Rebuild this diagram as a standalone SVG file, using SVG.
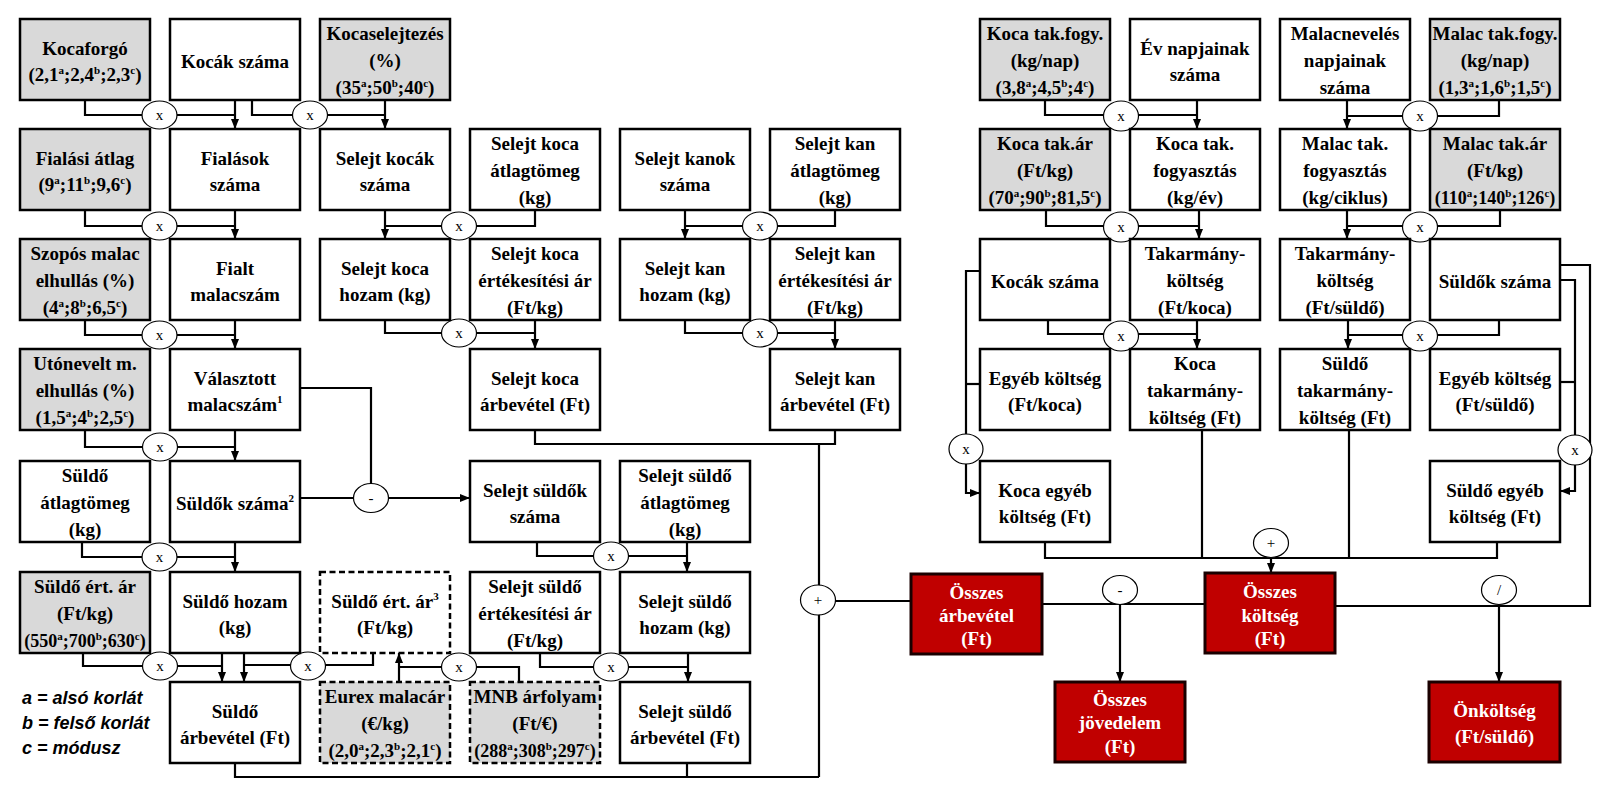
<svg xmlns="http://www.w3.org/2000/svg" width="1601" height="793" viewBox="0 0 1601 793">
<style>
.b{fill:#fff;stroke:#000;stroke-width:2.5}
.g{fill:#d9d9d9;stroke:#000;stroke-width:2.5}
.d{stroke-dasharray:6 3.5}
.r{fill:#c00000;stroke:#1a0000;stroke-width:3}
.t{font-family:"Liberation Serif","Times New Roman",serif;font-weight:bold;font-size:19px;text-anchor:middle;fill:#000}
.w{fill:#fff}
.sm{font-size:18px}
.s{font-size:11px}
.ln{fill:none;stroke:#000;stroke-width:2.2}
.op ellipse{fill:#fff;stroke:#000;stroke-width:1.2}
.op text{font-family:"Liberation Serif","Times New Roman",serif;font-size:15px;text-anchor:middle;fill:#000}
.lg{font-family:"Liberation Sans",Arial,sans-serif;font-weight:bold;font-style:italic;font-size:18px;fill:#000}
</style>
<defs>
<marker id="ar" markerWidth="10" markerHeight="8" refX="10" refY="4" orient="auto" markerUnits="userSpaceOnUse"><path d="M0,0 L10,4 L0,8 z" fill="#000"/></marker>
</defs>

<g id="connectors">
<g class="ln">
<path d="M85,100 V115 H235"/>
<path d="M235,100 V129" marker-end="url(#ar)"/>
<path d="M252,100 V115 H385"/>
<path d="M385,100 V129" marker-end="url(#ar)"/>
<path d="M85,210 V226 H235"/>
<path d="M235,210 V239" marker-end="url(#ar)"/>
<path d="M385,210 V239" marker-end="url(#ar)"/>
<path d="M385,226 H535 V210"/>
<path d="M685,210 V239" marker-end="url(#ar)"/>
<path d="M685,226 H835 V210"/>
<path d="M85,320 V335 H235"/>
<path d="M235,320 V349" marker-end="url(#ar)"/>
<path d="M385,320 V333 H535"/>
<path d="M535,320 V349" marker-end="url(#ar)"/>
<path d="M685,320 V333 H835"/>
<path d="M835,320 V349" marker-end="url(#ar)"/>
<path d="M85,430 V447 H235"/>
<path d="M235,430 V461" marker-end="url(#ar)"/>
<path d="M300,388 H371 V486"/>
<path d="M300,498 H470" marker-end="url(#ar)"/>
<path d="M535,430 V444 H835 V430"/>
<path d="M819,444 V777"/>
<path d="M235,763 V777 H819"/>
<path d="M687,763 V777"/>
<path d="M819,601 H911"/>
<path d="M82,542 V557 H235"/>
<path d="M235,542 V572" marker-end="url(#ar)"/>
<path d="M537,542 V556 H687"/>
<path d="M687,542 V572" marker-end="url(#ar)"/>
<path d="M83,653 V666 H222"/>
<path d="M222,653 V682" marker-end="url(#ar)"/>
<path d="M244,653 V682" marker-end="url(#ar)"/>
<path d="M244,665 H373 V653"/>
<path d="M399,682 V653" marker-end="url(#ar)"/>
<path d="M399,667 H519 V682"/>
<path d="M540,653 V667 H688"/>
<path d="M688,653 V682" marker-end="url(#ar)"/>

<path d="M1045,100 V115 H1197"/>
<path d="M1197,100 V129" marker-end="url(#ar)"/>
<path d="M1499,100 V116 H1347"/>
<path d="M1347,100 V129" marker-end="url(#ar)"/>
<path d="M1046,210 V226 H1199"/>
<path d="M1199,210 V239" marker-end="url(#ar)"/>
<path d="M1500,210 V226 H1347"/>
<path d="M1347,210 V239" marker-end="url(#ar)"/>
<path d="M1048,320 V334 H1197"/>
<path d="M1197,320 V349" marker-end="url(#ar)"/>
<path d="M1499,320 V335 H1348"/>
<path d="M1348,320 V349" marker-end="url(#ar)"/>
<path d="M980,271 H966 V493 H980" marker-end="url(#ar)"/>
<path d="M980,384 H966"/>
<path d="M1560,280 H1575 V491 H1560" marker-end="url(#ar)"/>
<path d="M1560,382 H1575"/>
<path d="M1560,265 H1590 V606 H1335"/>
<path d="M1499,604 V682" marker-end="url(#ar)"/>
<path d="M1045,542 V558 H1497 V542"/>
<path d="M1202,430 V558"/>
<path d="M1349,430 V558"/>
<path d="M1271,558 V573" marker-end="url(#ar)"/>
<path d="M1042,604 H1205"/>
<path d="M1120,604 V682" marker-end="url(#ar)"/>
</g>
<g class="op">
<ellipse cx="159.5" cy="115" rx="17.5" ry="14"/><text x="159.5" y="119.5">x</text>
<ellipse cx="310" cy="115" rx="17.5" ry="14"/><text x="310" y="119.5">x</text>
<ellipse cx="159.5" cy="226" rx="17.5" ry="14"/><text x="159.5" y="230.5">x</text>
<ellipse cx="459" cy="226" rx="17.5" ry="14"/><text x="459" y="230.5">x</text>
<ellipse cx="760" cy="226" rx="17.5" ry="14"/><text x="760" y="230.5">x</text>
<ellipse cx="159.5" cy="335" rx="17.5" ry="14"/><text x="159.5" y="339.5">x</text>
<ellipse cx="459" cy="333" rx="17.5" ry="14"/><text x="459" y="337.5">x</text>
<ellipse cx="760" cy="333" rx="17.5" ry="14"/><text x="760" y="337.5">x</text>
<ellipse cx="160" cy="447" rx="17.5" ry="14"/><text x="160" y="451.5">x</text>
<ellipse cx="371" cy="498" rx="17.5" ry="14.5"/><text x="371" y="502.5">-</text>
<ellipse cx="159.5" cy="557" rx="17.5" ry="14"/><text x="159.5" y="561.5">x</text>
<ellipse cx="611" cy="556" rx="17.5" ry="14"/><text x="611" y="560.5">x</text>
<ellipse cx="818" cy="600" rx="17.5" ry="15"/><text x="818" y="604.5">+</text>
<ellipse cx="160" cy="666" rx="17.5" ry="14"/><text x="160" y="670.5">x</text>
<ellipse cx="308" cy="666" rx="17.5" ry="14"/><text x="308" y="670.5">x</text>
<ellipse cx="459" cy="667" rx="17.5" ry="14"/><text x="459" y="671.5">x</text>
<ellipse cx="611" cy="667" rx="17.5" ry="14"/><text x="611" y="671.5">x</text>
<ellipse cx="1121" cy="116" rx="17.5" ry="15"/><text x="1121" y="120.5">x</text>
<ellipse cx="1420" cy="116" rx="17.5" ry="15"/><text x="1420" y="120.5">x</text>
<ellipse cx="1121" cy="227" rx="17.5" ry="15"/><text x="1121" y="231.5">x</text>
<ellipse cx="1420" cy="227" rx="17.5" ry="15"/><text x="1420" y="231.5">x</text>
<ellipse cx="1121" cy="336" rx="17.5" ry="15"/><text x="1121" y="340.5">x</text>
<ellipse cx="1420" cy="336" rx="17.5" ry="15"/><text x="1420" y="340.5">x</text>
<ellipse cx="966" cy="449" rx="17" ry="15"/><text x="966" y="453.5">x</text>
<ellipse cx="1575" cy="450" rx="17" ry="15"/><text x="1575" y="454.5">x</text>
<ellipse cx="1271" cy="543" rx="17.5" ry="14.5"/><text x="1271" y="548">+</text>
<ellipse cx="1120" cy="590" rx="17.5" ry="14.5"/><text x="1120" y="594.5">-</text>
<ellipse cx="1499" cy="590" rx="17.5" ry="14.5"/><text x="1499" y="594.5">/</text>
</g>
</g>

<g id="kocaforgo"><rect class="g" x="20" y="19" width="130" height="81"/><text class="t" x="85" y="54.5">Kocaforgó</text><text class="t" x="85" y="81">(2,1<tspan class="s" dy="-7">a</tspan><tspan dy="7">;2,4</tspan><tspan class="s" dy="-7">b</tspan><tspan dy="7">;2,3</tspan><tspan class="s" dy="-7">c</tspan><tspan dy="7">)</tspan></text></g>
<g id="kocak-szama"><rect class="b" x="170" y="19" width="130" height="81"/><text class="t" x="235" y="68">Kocák száma</text></g>
<g id="kocaselejtezes"><rect class="g" x="320" y="19" width="130" height="81"/><text class="t" x="385" y="40">Kocaselejtezés</text><text class="t" x="385" y="67">(%)</text><text class="t" x="385" y="94">(35<tspan class="s" dy="-7">a</tspan><tspan dy="7">;50</tspan><tspan class="s" dy="-7">b</tspan><tspan dy="7">;40</tspan><tspan class="s" dy="-7">c</tspan><tspan dy="7">)</tspan></text></g>

<g id="fialasi-atlag"><rect class="g" x="20" y="129" width="130" height="81"/><text class="t" x="85" y="164.5">Fialási átlag</text><text class="t" x="85" y="191">(9<tspan class="s" dy="-7">a</tspan><tspan dy="7">;11</tspan><tspan class="s" dy="-7">b</tspan><tspan dy="7">;9,6</tspan><tspan class="s" dy="-7">c</tspan><tspan dy="7">)</tspan></text></g>
<g id="fialasok-szama"><rect class="b" x="170" y="129" width="130" height="81"/><text class="t" x="235" y="164.5">Fialások</text><text class="t" x="235" y="191">száma</text></g>
<g id="selejt-kocak-szama"><rect class="b" x="320" y="129" width="130" height="81"/><text class="t" x="385" y="164.5">Selejt kocák</text><text class="t" x="385" y="191">száma</text></g>
<g id="selejt-koca-atlagtomeg"><rect class="b" x="470" y="129" width="130" height="81"/><text class="t" x="535" y="150">Selejt koca</text><text class="t" x="535" y="177">átlagtömeg</text><text class="t" x="535" y="204">(kg)</text></g>
<g id="selejt-kanok-szama"><rect class="b" x="620" y="129" width="130" height="81"/><text class="t" x="685" y="164.5">Selejt kanok</text><text class="t" x="685" y="191">száma</text></g>
<g id="selejt-kan-atlagtomeg"><rect class="b" x="770" y="129" width="130" height="81"/><text class="t" x="835" y="150">Selejt kan</text><text class="t" x="835" y="177">átlagtömeg</text><text class="t" x="835" y="204">(kg)</text></g>

<g id="szopos-malac"><rect class="g" x="20" y="239" width="130" height="81"/><text class="t" x="85" y="260">Szopós malac</text><text class="t" x="85" y="287">elhullás (%)</text><text class="t" x="85" y="314">(4<tspan class="s" dy="-7">a</tspan><tspan dy="7">;8</tspan><tspan class="s" dy="-7">b</tspan><tspan dy="7">;6,5</tspan><tspan class="s" dy="-7">c</tspan><tspan dy="7">)</tspan></text></g>
<g id="fialt-malacszam"><rect class="b" x="170" y="239" width="130" height="81"/><text class="t" x="235" y="274.5">Fialt</text><text class="t" x="235" y="301">malacszám</text></g>
<g id="selejt-koca-hozam"><rect class="b" x="320" y="239" width="130" height="81"/><text class="t" x="385" y="274.5">Selejt koca</text><text class="t" x="385" y="301">hozam (kg)</text></g>
<g id="selejt-koca-ar"><rect class="b" x="470" y="239" width="130" height="81"/><text class="t" x="535" y="260">Selejt koca</text><text class="t" x="535" y="287">értékesítési ár</text><text class="t" x="535" y="314">(Ft/kg)</text></g>
<g id="selejt-kan-hozam"><rect class="b" x="620" y="239" width="130" height="81"/><text class="t" x="685" y="274.5">Selejt kan</text><text class="t" x="685" y="301">hozam (kg)</text></g>
<g id="selejt-kan-ar"><rect class="b" x="770" y="239" width="130" height="81"/><text class="t" x="835" y="260">Selejt kan</text><text class="t" x="835" y="287">értékesítési ár</text><text class="t" x="835" y="314">(Ft/kg)</text></g>

<g id="utonevelt"><rect class="g" x="20" y="349" width="130" height="81"/><text class="t" x="85" y="370">Utónevelt m.</text><text class="t" x="85" y="397">elhullás (%)</text><text class="t" x="85" y="424">(1,5<tspan class="s" dy="-7">a</tspan><tspan dy="7">;4</tspan><tspan class="s" dy="-7">b</tspan><tspan dy="7">;2,5</tspan><tspan class="s" dy="-7">c</tspan><tspan dy="7">)</tspan></text></g>
<g id="valasztott"><rect class="b" x="170" y="349" width="130" height="81"/><text class="t" x="235" y="384.5">Választott</text><text class="t" x="235" y="411">malacszám<tspan class="s" font-size="13" dy="-8">1</tspan></text></g>
<g id="selejt-koca-arbevetel"><rect class="b" x="470" y="349" width="130" height="81"/><text class="t" x="535" y="384.5">Selejt koca</text><text class="t" x="535" y="411">árbevétel (Ft)</text></g>
<g id="selejt-kan-arbevetel"><rect class="b" x="770" y="349" width="130" height="81"/><text class="t" x="835" y="384.5">Selejt kan</text><text class="t" x="835" y="411">árbevétel (Ft)</text></g>

<g id="suldo-atlagtomeg"><rect class="b" x="20" y="461" width="130" height="81"/><text class="t" x="85" y="482">Süldő</text><text class="t" x="85" y="509">átlagtömeg</text><text class="t" x="85" y="536">(kg)</text></g>
<g id="suldok-szama"><rect class="b" x="170" y="461" width="130" height="81"/><text class="t" x="235" y="510">Süldők száma<tspan class="s" font-size="13" dy="-8">2</tspan></text></g>
<g id="selejt-suldok-szama"><rect class="b" x="470" y="461" width="130" height="81"/><text class="t" x="535" y="496.5">Selejt süldők</text><text class="t" x="535" y="523">száma</text></g>
<g id="selejt-suldo-atlagtomeg"><rect class="b" x="620" y="461" width="130" height="81"/><text class="t" x="685" y="482">Selejt süldő</text><text class="t" x="685" y="509">átlagtömeg</text><text class="t" x="685" y="536">(kg)</text></g>

<g id="suldo-ert-ar"><rect class="g" x="20" y="572" width="130" height="81"/><text class="t" x="85" y="593">Süldő ért. ár</text><text class="t" x="85" y="620">(Ft/kg)</text><text class="t sm" x="85" y="647">(550<tspan class="s" dy="-7">a</tspan><tspan dy="7">;700</tspan><tspan class="s" dy="-7">b</tspan><tspan dy="7">;630</tspan><tspan class="s" dy="-7">c</tspan><tspan dy="7">)</tspan></text></g>
<g id="suldo-hozam"><rect class="b" x="170" y="572" width="130" height="81"/><text class="t" x="235" y="607.5">Süldő hozam</text><text class="t" x="235" y="634">(kg)</text></g>
<g id="suldo-ert-ar-3"><rect class="b d" x="320" y="572" width="130" height="81"/><text class="t" x="385" y="607.5">Süldő ért. ár<tspan class="s" font-size="13" dy="-8">3</tspan></text><text class="t" x="385" y="634">(Ft/kg)</text></g>
<g id="selejt-suldo-ar"><rect class="b" x="470" y="572" width="130" height="81"/><text class="t" x="535" y="593">Selejt süldő</text><text class="t" x="535" y="620">értékesítési ár</text><text class="t" x="535" y="647">(Ft/kg)</text></g>
<g id="selejt-suldo-hozam"><rect class="b" x="620" y="572" width="130" height="81"/><text class="t" x="685" y="607.5">Selejt süldő</text><text class="t" x="685" y="634">hozam (kg)</text></g>

<g id="suldo-arbevetel"><rect class="b" x="170" y="682" width="130" height="81"/><text class="t" x="235" y="717.5">Süldő</text><text class="t" x="235" y="744">árbevétel (Ft)</text></g>
<g id="eurex"><rect class="g d" x="320" y="682" width="130" height="81"/><text class="t" x="385" y="703">Eurex malacár</text><text class="t" x="385" y="730">(€/kg)</text><text class="t" x="385" y="757">(2,0<tspan class="s" dy="-7">a</tspan><tspan dy="7">;2,3</tspan><tspan class="s" dy="-7">b</tspan><tspan dy="7">;2,1</tspan><tspan class="s" dy="-7">c</tspan><tspan dy="7">)</tspan></text></g>
<g id="mnb"><rect class="g d" x="470" y="682" width="130" height="81"/><text class="t" x="535" y="703">MNB árfolyam</text><text class="t" x="535" y="730">(Ft/€)</text><text class="t sm" x="535" y="757">(288<tspan class="s" dy="-7">a</tspan><tspan dy="7">;308</tspan><tspan class="s" dy="-7">b</tspan><tspan dy="7">;297</tspan><tspan class="s" dy="-7">c</tspan><tspan dy="7">)</tspan></text></g>
<g id="selejt-suldo-arbevetel"><rect class="b" x="620" y="682" width="130" height="81"/><text class="t" x="685" y="717.5">Selejt süldő</text><text class="t" x="685" y="744">árbevétel (Ft)</text></g>

<g id="legend">
<text class="lg" x="22" y="704">a = alsó korlát</text>
<text class="lg" x="22" y="729">b = felső korlát</text>
<text class="lg" x="22" y="754">c = módusz</text>
</g>

<g id="koca-tak-fogy"><rect class="g" x="980" y="19" width="130" height="81"/><text class="t" x="1045" y="40">Koca tak.fogy.</text><text class="t" x="1045" y="67">(kg/nap)</text><text class="t" x="1045" y="94">(3,8<tspan class="s" dy="-7">a</tspan><tspan dy="7">;4,5</tspan><tspan class="s" dy="-7">b</tspan><tspan dy="7">;4</tspan><tspan class="s" dy="-7">c</tspan><tspan dy="7">)</tspan></text></g>
<g id="ev-napjai"><rect class="b" x="1130" y="19" width="130" height="81"/><text class="t" x="1195" y="54.5">Év napjainak</text><text class="t" x="1195" y="81">száma</text></g>
<g id="malacneveles-napjai"><rect class="b" x="1280" y="19" width="130" height="81"/><text class="t" x="1345" y="40">Malacnevelés</text><text class="t" x="1345" y="67">napjainak</text><text class="t" x="1345" y="94">száma</text></g>
<g id="malac-tak-fogy"><rect class="g" x="1430" y="19" width="130" height="81"/><text class="t" x="1495" y="40" font-size="16.5">Malac tak.fogy.</text><text class="t" x="1495" y="67" font-size="17">(kg/nap)</text><text class="t" x="1495" y="94" font-size="17">(1,3<tspan class="s" dy="-7">a</tspan><tspan dy="7">;1,6</tspan><tspan class="s" dy="-7">b</tspan><tspan dy="7">;1,5</tspan><tspan class="s" dy="-7">c</tspan><tspan dy="7">)</tspan></text></g>

<g id="koca-tak-ar"><rect class="g" x="980" y="129" width="130" height="81"/><text class="t" x="1045" y="150">Koca tak.ár</text><text class="t" x="1045" y="177">(Ft/kg)</text><text class="t" x="1045" y="204">(70<tspan class="s" dy="-7">a</tspan><tspan dy="7">;90</tspan><tspan class="s" dy="-7">b</tspan><tspan dy="7">;81,5</tspan><tspan class="s" dy="-7">c</tspan><tspan dy="7">)</tspan></text></g>
<g id="koca-tak-fogyasztas"><rect class="b" x="1130" y="129" width="130" height="81"/><text class="t" x="1195" y="150">Koca tak.</text><text class="t" x="1195" y="177">fogyasztás</text><text class="t" x="1195" y="204">(kg/év)</text></g>
<g id="malac-tak-fogyasztas"><rect class="b" x="1280" y="129" width="130" height="81"/><text class="t" x="1345" y="150">Malac tak.</text><text class="t" x="1345" y="177">fogyasztás</text><text class="t" x="1345" y="204">(kg/ciklus)</text></g>
<g id="malac-tak-ar"><rect class="g" x="1430" y="129" width="130" height="81"/><text class="t" x="1495" y="150">Malac tak.ár</text><text class="t" x="1495" y="177">(Ft/kg)</text><text class="t sm" x="1495" y="204">(110<tspan class="s" dy="-7">a</tspan><tspan dy="7">;140</tspan><tspan class="s" dy="-7">b</tspan><tspan dy="7">;126</tspan><tspan class="s" dy="-7">c</tspan><tspan dy="7">)</tspan></text></g>

<g id="kocak-szama-r"><rect class="b" x="980" y="239" width="130" height="81"/><text class="t" x="1045" y="288">Kocák száma</text></g>
<g id="takarmany-koltseg-koca"><rect class="b" x="1130" y="239" width="130" height="81"/><text class="t" x="1195" y="260">Takarmány-</text><text class="t" x="1195" y="287">költség</text><text class="t" x="1195" y="314">(Ft/koca)</text></g>
<g id="takarmany-koltseg-suldo"><rect class="b" x="1280" y="239" width="130" height="81"/><text class="t" x="1345" y="260">Takarmány-</text><text class="t" x="1345" y="287">költség</text><text class="t" x="1345" y="314">(Ft/süldő)</text></g>
<g id="suldok-szama-r"><rect class="b" x="1430" y="239" width="130" height="81"/><text class="t" x="1495" y="288">Süldők száma</text></g>

<g id="egyeb-koltseg-koca"><rect class="b" x="980" y="349" width="130" height="81"/><text class="t" x="1045" y="384.5">Egyéb költség</text><text class="t" x="1045" y="411">(Ft/koca)</text></g>
<g id="koca-takarmanykoltseg"><rect class="b" x="1130" y="349" width="130" height="81"/><text class="t" x="1195" y="370">Koca</text><text class="t" x="1195" y="397">takarmány-</text><text class="t" x="1195" y="424">költség (Ft)</text></g>
<g id="suldo-takarmanykoltseg"><rect class="b" x="1280" y="349" width="130" height="81"/><text class="t" x="1345" y="370">Süldő</text><text class="t" x="1345" y="397">takarmány-</text><text class="t" x="1345" y="424">költség (Ft)</text></g>
<g id="egyeb-koltseg-suldo"><rect class="b" x="1430" y="349" width="130" height="81"/><text class="t" x="1495" y="384.5">Egyéb költség</text><text class="t" x="1495" y="411">(Ft/süldő)</text></g>

<g id="koca-egyeb-koltseg"><rect class="b" x="980" y="461" width="130" height="81"/><text class="t" x="1045" y="496.5">Koca egyéb</text><text class="t" x="1045" y="523">költség (Ft)</text></g>
<g id="suldo-egyeb-koltseg"><rect class="b" x="1430" y="461" width="130" height="81"/><text class="t" x="1495" y="496.5">Süldő egyéb</text><text class="t" x="1495" y="523">költség (Ft)</text></g>

<g id="osszes-arbevetel"><rect class="r" x="911" y="574" width="131" height="80"/><text class="t w" x="976.5" y="599">Összes</text><text class="t w" x="976.5" y="622">árbevétel</text><text class="t w" x="976.5" y="645">(Ft)</text></g>
<g id="osszes-koltseg"><rect class="r" x="1205" y="573" width="130" height="80"/><text class="t w" x="1270" y="598">Összes</text><text class="t w" x="1270" y="622">költség</text><text class="t w" x="1270" y="645">(Ft)</text></g>
<g id="osszes-jovedelem"><rect class="r" x="1055" y="682" width="130" height="80"/><text class="t w" x="1120" y="706">Összes</text><text class="t w" x="1120" y="729">jövedelem</text><text class="t w" x="1120" y="753">(Ft)</text></g>
<g id="onkoltseg"><rect class="r" x="1429" y="682" width="131" height="80"/><text class="t w" x="1494.5" y="717">Önköltség</text><text class="t w" x="1494.5" y="743">(Ft/süldő)</text></g>
</svg>
